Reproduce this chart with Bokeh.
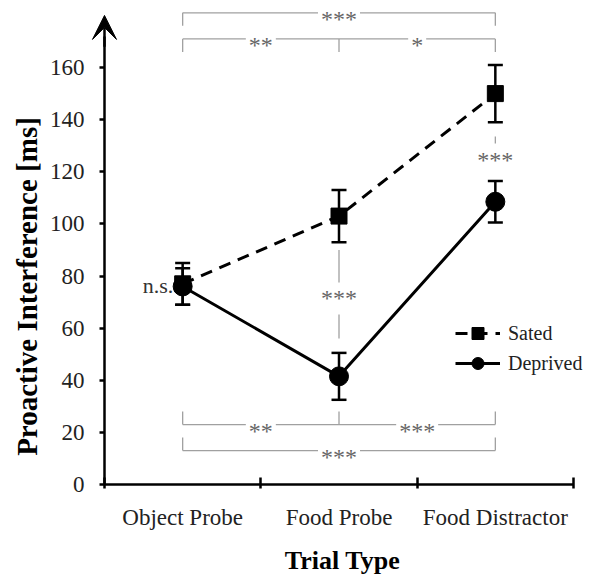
import math
from bokeh.plotting import figure
from bokeh.models import (ColumnDataSource, FixedTicker, Whisker, TeeHead, Arrow,
                          VeeHead, Legend, LegendItem, Range1d, Label)
from bokeh.core.properties import value
from bokeh.embed import file_html
from bokeh.resources import INLINE

# ---------------- data ----------------
categories = ["Object Probe", "Food Probe", "Food Distractor"]
x_pos = [0.5, 1.5, 2.5]
sated_mean = [77, 103, 150]
sated_err = [8, 10, 11]
deprived_mean = [76, 41.5, 108.5]
deprived_err = [7, 9, 8]
y_ticks = [0, 20, 40, 60, 80, 100, 120, 140, 160]

FONT = "Liberation Serif"
GRAY_LINE = "#a0a0a0"
GRAY_TEXT = "#666666"

# whole canvas is the plot frame; axes are pinned at x=0 / y=0
p = figure(width=592, height=577, x_range=Range1d(-0.6652, 3.1215), y_range=Range1d(-35.69, 185.73),
           output_backend="svg", toolbar_location=None,
           min_border_left=0, min_border_right=0, min_border_top=0, min_border_bottom=0)
p.xgrid.visible = False
p.ygrid.visible = False
p.outline_line_color = None
p.background_fill_color = "white"

# ---------------- axes ----------------
xa = p.xaxis[0]
xa.fixed_location = 0
xa.bounds = (0, 3)
xa.ticker = FixedTicker(ticks=x_pos, minor_ticks=[0, 1, 2, 3])
xa.major_label_overrides = {x: c for x, c in zip(x_pos, categories)}
xa.major_tick_line_color = None
xa.major_tick_in = 0
xa.major_tick_out = 0
xa.minor_tick_line_color = "black"
xa.minor_tick_line_width = 2.5
xa.minor_tick_in = 7
xa.minor_tick_out = 4
xa.axis_line_width = 2.5
xa.axis_line_color = "black"
xa.major_label_standoff = 17
xa.major_label_text_font = FONT
xa.major_label_text_font_size = "23px"
xa.major_label_text_color = "#222222"

ya = p.yaxis[0]
ya.fixed_location = 0
ya.ticker = FixedTicker(ticks=y_ticks)
ya.bounds = (0, 172)
ya.minor_tick_line_color = None
ya.major_tick_in = 0
ya.major_tick_out = 5
ya.major_tick_line_width = 2.5
ya.axis_line_width = 2.5
ya.axis_line_color = "black"
ya.major_label_standoff = 15
ya.major_label_text_font = FONT
ya.major_label_text_font_size = "23px"
ya.major_label_text_color = "#222222"

p.add_layout(Label(text="Proactive Interference [ms]", x=26, y=291, x_units="screen", y_units="screen",
                   angle=math.pi / 2, text_align="center", text_baseline="middle",
                   text_font=FONT, text_font_style="bold", text_font_size="29px", text_color="black"))
p.add_layout(Label(text="Trial Type", x=342, y=17, x_units="screen", y_units="screen",
                   text_align="center", text_baseline="middle",
                   text_font=FONT, text_font_style="bold", text_font_size="26px", text_color="black"))

p.add_layout(Arrow(end=VeeHead(size=24, fill_color="black", line_color="black", line_width=1),
                   x_start=0, y_start=168, x_end=0, y_end=180,
                   line_width=2.5, line_color="black"))

# ---------------- significance brackets (gray) ----------------
def bracket(y_line, y_tick, xs_ticks, x0, x1):
    p.segment(x0=[x0], y0=[y_line], x1=[x1], y1=[y_line], line_color=GRAY_LINE, line_width=1.3)
    p.segment(x0=xs_ticks, y0=[y_line] * len(xs_ticks), x1=xs_ticks, y1=[y_tick] * len(xs_ticks),
              line_color=GRAY_LINE, line_width=1.3)

def stars(xs, ys, labels):
    src = ColumnDataSource(dict(x=xs, y=ys, t=labels))
    p.text(x="x", y="y", text="t", source=src, text_font=value(FONT), text_font_size="24px",
           text_color=GRAY_TEXT, text_align="center", text_baseline="middle", y_offset=6,
           background_fill_color="white", padding=3)

# top
bracket(181, 176, [x_pos[0], x_pos[2]], x_pos[0], x_pos[2])
bracket(171, 166, x_pos, x_pos[0], x_pos[2])
# bottom
bracket(23, 28, x_pos, x_pos[0], x_pos[2])
bracket(13, 18, [x_pos[0], x_pos[2]], x_pos[0], x_pos[2])
# vertical comparisons
p.segment(x0=[x_pos[1], x_pos[2]], y0=[90, 133.5], x1=[x_pos[1], x_pos[2]], y1=[56, 120.5],
          line_color=GRAY_LINE, line_width=1.3)

stars([1.5, 1.0, 2.0, 1.0, 2.0, 1.5, 1.5, 2.5],
      [181, 171, 171, 23, 23, 13, 73.7, 127],
      ["***", "**", "*", "**", "***", "***", "***", "***"])

p.text(x=[0.44], y=[76.2], text=["n.s."], text_font=value(FONT), text_font_size="22px",
       text_color="#333333", text_align="right", text_baseline="middle")

# ---------------- series ----------------
sated_src = ColumnDataSource(dict(x=x_pos, y=sated_mean,
                                  lo=[m - e for m, e in zip(sated_mean, sated_err)],
                                  hi=[m + e for m, e in zip(sated_mean, sated_err)]))
dep_src = ColumnDataSource(dict(x=x_pos, y=deprived_mean,
                                lo=[m - e for m, e in zip(deprived_mean, deprived_err)],
                                hi=[m + e for m, e in zip(deprived_mean, deprived_err)]))

for src in (dep_src, sated_src):
    p.add_layout(Whisker(source=src, base="x", upper="hi", lower="lo", line_width=2.5,
                         line_color="black",
                         upper_head=TeeHead(size=15, line_width=2.5, line_color="black"),
                         lower_head=TeeHead(size=15, line_width=2.5, line_color="black")))

dep_line = p.line("x", "y", source=dep_src, line_color="black", line_width=3)
dep_mark = p.scatter("x", "y", source=dep_src, marker="circle", size=19, color="black")
sated_line = p.line("x", "y", source=sated_src, line_color="black", line_width=3, line_dash="12 8")
sated_mark = p.scatter("x", "y", source=sated_src, marker="square", size=16, color="black")

# legend: location is relative to the frame's bottom-left (frame = whole canvas here)
legend = Legend(items=[LegendItem(label="Sated", renderers=[sated_line, sated_mark]),
                       LegendItem(label="Deprived", renderers=[dep_line, dep_mark])],
                location=(455, 199), border_line_color=None, background_fill_alpha=0,
                padding=0, margin=0, glyph_width=45, glyph_height=30, spacing=0,
                label_standoff=8, label_text_font=FONT, label_text_font_size="20px",
                label_text_color="#222222")
p.add_layout(legend)

open("out.html", "w").write(file_html(p, INLINE))
